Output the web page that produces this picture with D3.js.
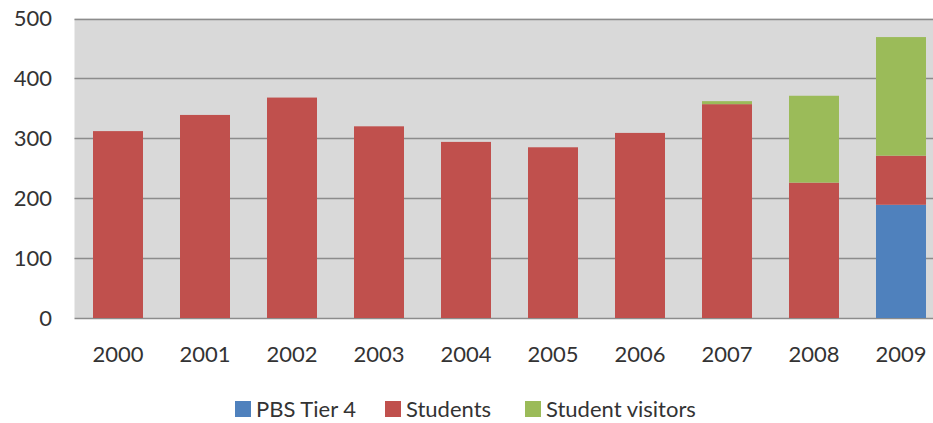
<!DOCTYPE html>
<html>
<head>
<meta charset="utf-8">
<script src="https://cdn.jsdelivr.net/npm/d3@7"></script>
<style>
  body { margin: 0; background: #fff; }
  svg { display: block; font-family: Lato, "Open Sans", sans-serif; }
</style>
</head>
<body>
<svg id="chart"></svg>
<script>
const width = 933;
const height = 423;

// data
const years = ["2000", "2001", "2002", "2003", "2004", "2005", "2006", "2007", "2008", "2009"];
const pbsTier4 = [0, 0, 0, 0, 0, 0, 0, 0, 0, 189];
const students = [312, 339, 368, 320, 294, 285, 309, 357, 226, 82];
const studentVisitors = [0, 0, 0, 0, 0, 0, 0, 5, 145, 198];
const seriesNames = ["PBS Tier 4", "Students", "Student visitors"];
const colors = ["#4F81BD", "#C0504D", "#9BBB59"];
const yTicks = [0, 100, 200, 300, 400, 500];

const svg = d3.select("#chart")
    .attr("width", width)
    .attr("height", height);

// plot area runs a bit past the right edge, like the original
const plotLeft = 74.5, plotRight = 944.5, plotTop = 18.5, plotBottom = 318;

const x = d3.scaleBand().domain(years).range([plotLeft, plotRight]).paddingInner(37 / 87).paddingOuter(18.5 / 87);
const y = d3.scaleLinear().domain([0, 500]).range([plotBottom, plotTop]);

const rows = years.map((yr, i) => ({
    year: yr,
    "PBS Tier 4": pbsTier4[i],
    "Students": students[i],
    "Student visitors": studentVisitors[i]
}));
const stacked = d3.stack().keys(seriesNames)(rows);

// background
svg.append("rect")
    .attr("x", plotLeft).attr("y", plotTop)
    .attr("width", plotRight - plotLeft).attr("height", plotBottom - plotTop)
    .attr("fill", "#D9D9D9");

// gridlines
svg.append("g").selectAll("line")
    .data(yTicks)
    .join("line")
    .attr("x1", plotLeft).attr("x2", plotRight)
    .attr("y1", d => Math.round(y(d)) + 0.5)
    .attr("y2", d => Math.round(y(d)) + 0.5)
    .attr("stroke", "#8C8C8C")
    .attr("stroke-width", 1.4);

// bars
svg.append("g").selectAll("g")
    .data(stacked)
    .join("g")
    .attr("fill", (d, i) => colors[i])
    .selectAll("rect")
    .data(d => d.filter(p => p[1] > p[0]))
    .join("rect")
    .attr("x", d => x(d.data.year))
    .attr("width", x.bandwidth())
    .attr("y", d => y(d[1]))
    .attr("height", d => y(d[0]) - y(d[1]));

// y axis labels
svg.append("g").selectAll("text")
    .data(yTicks)
    .join("text")
    .attr("x", 52)
    .attr("y", d => y(d))
    .attr("dy", "0.36em")
    .attr("text-anchor", "end")
    .attr("font-size", 22)
    .attr("fill", "#333")
    .text(d => d);

// x axis labels
svg.append("g").selectAll("text")
    .data(years)
    .join("text")
    .attr("x", d => x(d) + x.bandwidth() / 2)
    .attr("y", 362)
    .attr("text-anchor", "middle")
    .attr("font-size", 22)
    .attr("fill", "#333")
    .text(d => d);

// legend
const legendX = [235, 385, 525];
const legend = svg.append("g").selectAll("g")
    .data(seriesNames)
    .join("g")
    .attr("transform", (d, i) => `translate(${legendX[i]}, 401)`);

legend.append("rect")
    .attr("width", 16).attr("height", 16)
    .attr("fill", (d, i) => colors[i]);

legend.append("text")
    .attr("x", 21)
    .attr("y", 8)
    .attr("dy", "0.36em")
    .attr("font-size", 22)
    .attr("fill", "#333")
    .text(d => d);
</script>
</body>
</html>
